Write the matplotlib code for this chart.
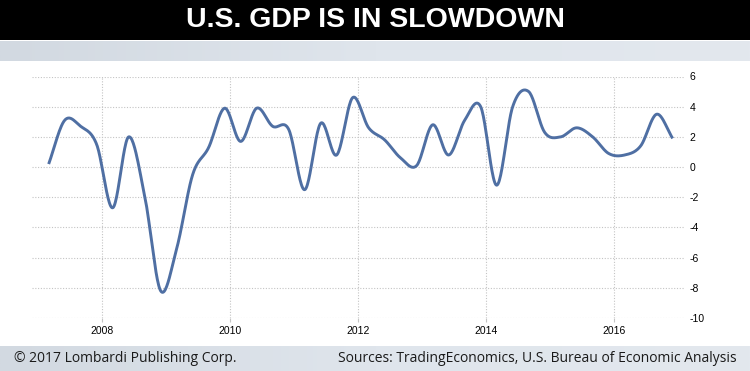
import numpy as np
import pandas as pd
import matplotlib
matplotlib.use("Agg")
import matplotlib.pyplot as plt

# US real GDP growth, quarterly, annualized (%), 2007Q1 .. 2016Q4
quarters = pd.period_range("2007Q1", "2016Q4", freq="Q")
gdp_growth = [
    0.2, 3.1, 2.7, 1.5,
    -2.7, 2.0, -1.9, -8.2,
    -5.4, -0.5, 1.3, 3.9,
    1.7, 3.9, 2.7, 2.5,
    -1.5, 2.9, 0.8, 4.6,
    2.6, 1.8, 0.6, 0.1,
    2.8, 0.8, 3.1, 4.0,
    -1.2, 4.0, 5.0, 2.3,
    2.0, 2.6, 2.0, 0.9,
    0.8, 1.4, 3.5, 1.9,
]
year_ticks = [2008, 2010, 2012, 2014, 2016]
value_ticks = [6, 4, 2, 0, -2, -4, -6, -8, -10]

title = "U.S. GDP IS IN SLOWDOWN"
footer_left = "\u00a9 2017 Lombardi Publishing Corp."
footer_right = "Sources: TradingEconomics, U.S. Bureau of Economic Analysis"

W, H = 750, 371
LINE_COLOR = "#4f6fa3"
GRID_COLOR = "#c4c4c4"

# point sits on the last month of each quarter
x = np.array([q.year + (q.quarter * 3 - 1) / 12 for q in quarters])
y = np.array(gdp_growth, dtype=float)


def catmull_rom(xs, ys, n=24):
    # uniform catmull-rom through the points (spacing is equal in x)
    px = np.concatenate([[2 * xs[0] - xs[1]], xs, [2 * xs[-1] - xs[-2]]])
    py = np.concatenate([[2 * ys[0] - ys[1]], ys, [2 * ys[-1] - ys[-2]]])
    out_x, out_y = [], []
    t = np.linspace(0, 1, n, endpoint=False)
    for i in range(1, len(px) - 2):
        for arr, out in ((px, out_x), (py, out_y)):
            p0, p1, p2, p3 = arr[i - 1], arr[i], arr[i + 1], arr[i + 2]
            out.extend(
                0.5 * ((2 * p1) + (-p0 + p2) * t
                       + (2 * p0 - 5 * p1 + 4 * p2 - p3) * t ** 2
                       + (-p0 + 3 * p1 - 3 * p2 + p3) * t ** 3)
            )
    out_x.append(xs[-1])
    out_y.append(ys[-1])
    return np.array(out_x), np.array(out_y)


sx, sy = catmull_rom(x, y)

fig = plt.figure(figsize=(W / 100, H / 100), dpi=100)
fig.patch.set_facecolor("white")


def px_box(left, top, width, height):
    return [left / W, 1 - (top + height) / H, width / W, height / H]


# ----------------------------
# header / footer bands
# ----------------------------

ax_title = fig.add_axes(px_box(0, 0, W, 40))
ax_title.set_facecolor("black")
ax_title.set_xticks([])
ax_title.set_yticks([])
for s in ax_title.spines.values():
    s.set_visible(False)
ax_title.text(
    0.5, 0.5, title,
    transform=ax_title.transAxes,
    ha="center", va="center",
    color="white", fontsize=20.5, fontweight="bold",
    family=["Liberation Sans", "DejaVu Sans"],
)

ax_edge = fig.add_axes(px_box(0, 40, W, 1.5))
ax_edge.set_facecolor("#7f8388")
ax_edge.axis("off")
ax_edge.patch.set_visible(True)

grad = np.linspace(0, 1, 256).reshape(1, -1)
band_cmap = matplotlib.colors.LinearSegmentedColormap.from_list(
    "band", ["#d2d9e1", "#dfe5ec", "#e3e8ee"]
)

ax_band = fig.add_axes(px_box(0, 41.5, W, 20))
ax_band.imshow(grad, aspect="auto", cmap=band_cmap)
ax_band.axis("off")

ax_foot = fig.add_axes(px_box(0, 346, W, 25))
ax_foot.imshow(grad, aspect="auto", cmap=band_cmap)
ax_foot.axis("off")
ax_foot.text(
    14 / W, 0.5, footer_left,
    transform=ax_foot.transAxes,
    ha="left", va="center",
    color="#1a1a1a", fontsize=10,
    family=["Open Sans", "DejaVu Sans"],
)
ax_foot.text(
    737 / W, 0.5, footer_right,
    transform=ax_foot.transAxes,
    ha="right", va="center",
    color="#1a1a1a", fontsize=10,
    family=["Open Sans", "DejaVu Sans"],
)

# ----------------------------
# GDP line
# ----------------------------

ax = fig.add_axes(px_box(32, 76.5, 652, 241.5))
ax.plot(sx, sy, color=LINE_COLOR, linewidth=2.1, solid_capstyle="butt", zorder=3)

x0 = 2008 - 70 / 64
x1 = 2008 + 582 / 64
ax.set_xlim(x0, x1)
ax.set_ylim(-10, 6)

ax.set_xticks(year_ticks)
ax.set_xticklabels([str(v) for v in year_ticks])
ax.set_yticks(value_ticks)
ax.set_yticklabels([str(v) for v in value_ticks])

ax.yaxis.tick_right()
ax.tick_params(axis="y", length=0, pad=4)
ax.tick_params(axis="x", length=3, color=GRID_COLOR, pad=3)
for lab in ax.get_xticklabels() + ax.get_yticklabels():
    lab.set_family(["Liberation Sans", "DejaVu Sans"])
    lab.set_fontsize(7.5)
    lab.set_color("black")
for lab in ax.get_yticklabels():
    lab.set_horizontalalignment("left")

ax.grid(True, color=GRID_COLOR, linestyle=(0, (1, 1.5)), linewidth=0.8)
for s in ax.spines.values():
    s.set_visible(False)
ax.set_facecolor("none")

plt.savefig("out.png", dpi=100)
